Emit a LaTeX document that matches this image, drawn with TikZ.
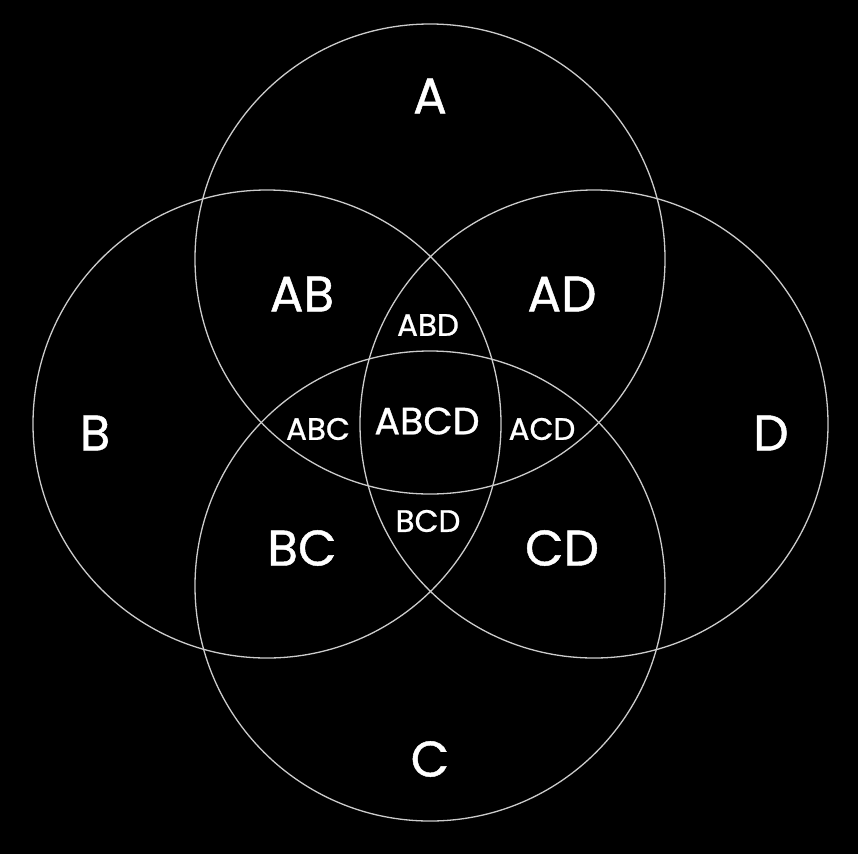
\documentclass[tikz,border=0pt]{standalone}
\usepackage{fontspec}
\newfontfamily\vennfont{Poppins}[FakeBold=0.9]
\begin{document}
\begin{tikzpicture}[x=1pt,y=-1pt,line width=1.3pt,
  ring/.style={draw=white!80!black},
  big/.style={text=white,font=\vennfont\fontsize{50}{50}\selectfont},
  mid/.style={text=white,font=\vennfont\fontsize{38}{38}\selectfont},
  small/.style={text=white,font=\vennfont\fontsize{31}{31}\selectfont}]
 \fill[black] (0,0) rectangle (858,854);
 \useasboundingbox (0,0) rectangle (858,854);
 \coordinate (cA) at (430,259); \coordinate (cC) at (430,586);
 \coordinate (cB) at (267,424); \coordinate (cD) at (594,424);
 \draw[ring] (cA) circle (235);
 \draw[ring] (cB) circle (234);
 \draw[ring] (cC) circle (235);
 \draw[ring] (cD) circle (234);
 \node[big] (A) at (430,96) {A};
 \node[big] (B) at (95,433) {B};
 \node[big] (C) at (430,759) {C};
 \node[big] (D) at (771,433) {D};
 \node[big] (AB) at (302,294) {AB};
 \node[big] (AD) at (562,294) {AD};
 \node[big] (BC) at (302,548) {BC};
 \node[big] (CD) at (562,548) {CD};
 \node[small] (ABD) at (428,325) {ABD};
 \node[small] (ABC) at (318,429) {ABC};
 \node[small] (ACD) at (542,429) {ACD};
 \node[small] (BCD) at (428,521) {BCD};
 \node[mid] (ABCD) at (427,421) {ABCD};
\end{tikzpicture}
\end{document}
